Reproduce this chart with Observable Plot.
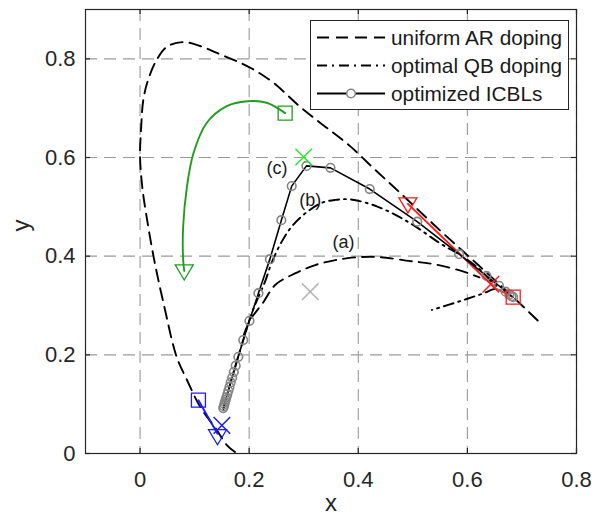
<!DOCTYPE html>
<html><head><meta charset="utf-8">
<script src="https://cdn.jsdelivr.net/npm/d3@7"></script>
<script src="https://cdn.jsdelivr.net/npm/@observablehq/plot@0.6"></script>
<style>
body{margin:0;background:#fff;}
#wrap{position:relative;width:600px;height:521px;font-family:"Liberation Sans",Arial,sans-serif;}
#legend{position:absolute;left:310px;top:20px;width:259px;height:90px;border:1px solid #262626;background:#fff;box-sizing:border-box;}
#legend svg{position:absolute;left:-1px;top:-1px;overflow:visible;}
</style>
</head><body>
<div id="wrap"><div id="chart"></div><div id="legend"></div></div>
<script>
// ---------- data ----------
const xTicks = [0, 0.2, 0.4, 0.6, 0.8];
const yTicks = [0, 0.2, 0.4, 0.6, 0.8];
const seriesNames = ["uniform AR doping", "optimal QB doping", "optimized ICBLs"];

const uniformX = [0.174,0.159,0.141,0.110,0.086,0.067,0.044,0.026,0.012,0.004,0.000,0.002,0.006,0.015,0.031,0.050,0.079,0.110,0.141,0.202,0.245,0.294,0.340,0.385,0.430,0.477,0.550,0.620,0.684,0.734];
const uniformY = [0.003,0.017,0.047,0.095,0.149,0.196,0.300,0.392,0.480,0.541,0.602,0.660,0.717,0.758,0.799,0.825,0.834,0.826,0.812,0.782,0.751,0.702,0.662,0.623,0.576,0.528,0.452,0.382,0.317,0.264];

const curveAX = [0.190,0.202,0.225,0.248,0.284,0.321,0.358,0.400,0.440,0.495,0.532,0.570,0.600,0.622];
const curveAY = [0.240,0.271,0.305,0.342,0.365,0.382,0.392,0.398,0.398,0.390,0.385,0.376,0.366,0.357];

const qbX = [0.153,0.170,0.190,0.205,0.218,0.229,0.242,0.260,0.278,0.303,0.333,0.358,0.385,0.434,0.495,0.550,0.590,0.624,0.645,0.655,0.645,0.630,0.590,0.535];
const qbY = [0.090,0.160,0.233,0.285,0.320,0.348,0.389,0.430,0.460,0.487,0.508,0.514,0.515,0.501,0.467,0.426,0.400,0.372,0.347,0.336,0.332,0.325,0.310,0.291];

const icblX = [0.1524,0.1535,0.1545,0.1556,0.1570,0.1583,0.1599,0.1618,0.1639,0.1662,0.1689,0.1718,0.1753,0.1801,0.1891,0.2005,0.217,0.238,0.259,0.278,0.305,0.349,0.421,0.508,0.585,0.635,0.658,0.670,0.677,0.681,0.684];
const icblY = [0.092,0.096,0.100,0.104,0.109,0.114,0.120,0.127,0.135,0.144,0.154,0.165,0.178,0.196,0.230,0.269,0.325,0.394,0.473,0.542,0.583,0.579,0.536,0.470,0.404,0.360,0.340,0.328,0.322,0.319,0.317];

const greenX = [0.266,0.232,0.196,0.159,0.122,0.098,0.086,0.079,0.079,0.081];
const greenY = [0.690,0.711,0.714,0.704,0.670,0.609,0.541,0.460,0.392,0.370];
const blueX = [0.107,0.142];
const blueY = [0.108,0.040];
const redX = [0.684,0.652,0.491];
const redY = [0.317,0.334,0.506];

const squareX = [0.107,0.266,0.684];
const squareY = [0.108,0.690,0.317];
const squareC = ["#1a1aff","#1e9e1e","#ff1a1a"];
const triX = [0.142,0.081,0.491];
const triY = [0.036,0.370,0.506];
const triC = ["#1a1aff","#1e9e1e","#ff1a1a"];
const crossX = [0.150,0.300,0.643,0.312];
const crossY = [0.057,0.601,0.343,0.328];
const crossC = ["#1a1aff","#22ee22","#ff1a1a","#b4b4b4"];

const noteText = ["(a)","(b)","(c)"];
const noteX = [0.373,0.312,0.251];
const noteY = [0.428,0.513,0.578];

// ---------- build ----------
const pts = (xs, ys) => xs.map((x, i) => ({x, y: ys[i]}));
const pc = (xs, ys, cs) => xs.map((x, i) => ({x, y: ys[i], c: cs[i]}));
const triDown = {draw(ctx, size){ const r = Math.sqrt(size/Math.PI); ctx.moveTo(-r,-0.67*r); ctx.lineTo(r,-0.67*r); ctx.lineTo(0,r); ctx.closePath(); }};
const ink = "#262626";
const frameW = 600-85-24, frameH = 521-9-68;

const chart = Plot.plot({
  width: 600, height: 521,
  marginLeft: 85, marginRight: 24, marginTop: 9, marginBottom: 68,
  x: {domain: [-0.1, 0.8], ticks: xTicks, tickFormat: d => String(d), tickSize: 0, tickPadding: 18, label: null},
  y: {domain: [0, 0.9], ticks: yTicks, tickFormat: d => String(d), tickSize: 0, tickPadding: 10, label: null},
  style: {fontFamily: "'Liberation Sans', Arial, sans-serif", fontSize: "22px", color: ink, background: "white", overflow: "visible"},
  marks: [
    Plot.ruleX(xTicks, {x: d => d, stroke: "#9a9a9a", strokeWidth: 1.1, strokeDasharray: "12,7"}),
    Plot.ruleY(yTicks, {y: d => d, stroke: "#9a9a9a", strokeWidth: 1.1, strokeDasharray: "12,7"}),
    Plot.line(pts(uniformX, uniformY), {x: "x", y: "y", curve: "catmull-rom", stroke: "black", strokeWidth: 1.9, strokeDasharray: "12,7"}),
    Plot.line(pts(curveAX, curveAY), {x: "x", y: "y", curve: "catmull-rom", stroke: "black", strokeWidth: 1.9, strokeDasharray: "12,7"}),
    Plot.line(pts(qbX, qbY), {x: "x", y: "y", curve: "catmull-rom", stroke: "black", strokeWidth: 1.9, strokeDasharray: "10,5,2,5"}),
    Plot.line(pts(greenX, greenY), {x: "x", y: "y", curve: "catmull-rom", stroke: "#1e9e1e", strokeWidth: 1.9}),
    Plot.line(pts(blueX, blueY), {x: "x", y: "y", stroke: "#1a1aff", strokeWidth: 1.9}),
    Plot.line(pts(redX, redY), {x: "x", y: "y", stroke: "#ff1a1a", strokeWidth: 1.9}),
    Plot.line(pts(icblX, icblY), {x: "x", y: "y", stroke: "black", strokeWidth: 1.6}),
    Plot.dot(pts(icblX, icblY), {x: "x", y: "y", r: 4.3, stroke: "#858585", strokeWidth: 1.6, fill: "none"}),
    Plot.dot(pc(squareX, squareY, squareC), {x: "x", y: "y", symbol: "square", r: 7.9, stroke: "c", fill: "none", strokeWidth: 1.3}),
    Plot.dot(pc(triX, triY, triC), {x: "x", y: "y", symbol: triDown, r: 9, stroke: "c", fill: "none", strokeWidth: 1.3}),
    Plot.dot(pc(crossX, crossY, crossC), {x: "x", y: "y", symbol: "times", r: 7.6, stroke: "c", fill: "none", strokeWidth: 1.5}),
    Plot.text(noteText.map((t, i) => ({t, x: noteX[i], y: noteY[i]})), {x: "x", y: "y", text: "t", fontSize: 18, fill: "#1a1a1a"}),
    Plot.frame({stroke: ink, strokeWidth: 1.2}),
    Plot.ruleX(xTicks, {x: d => d, insetTop: frameH - 5, stroke: ink, strokeWidth: 1.2}),
    Plot.ruleX(xTicks, {x: d => d, insetBottom: frameH - 5, stroke: ink, strokeWidth: 1.2}),
    Plot.ruleY(yTicks, {y: d => d, insetRight: frameW - 5, stroke: ink, strokeWidth: 1.2}),
    Plot.ruleY(yTicks, {y: d => d, insetLeft: frameW - 5, stroke: ink, strokeWidth: 1.2}),
    Plot.text(["x"], {text: d => d, frameAnchor: "bottom", dy: 57, fontSize: 24, fill: ink}),
    Plot.text(["y"], {text: d => d, frameAnchor: "left", dx: -64, rotate: -90, fontSize: 24, fill: ink})
  ]
});
document.getElementById("chart").appendChild(chart);

// ---------- legend ----------
const lg = d3.select("#legend").append("svg").attr("width", 259).attr("height", 90);
const rowY = [17.5, 45.5, 73.5];
const dashes = ["12,7", "10,5,2,5", null];
seriesNames.forEach((name, i) => {
  const ln = lg.append("line").attr("x1", 7).attr("x2", 75).attr("y1", rowY[i]).attr("y2", rowY[i])
    .attr("stroke", "black").attr("stroke-width", 1.9);
  if (dashes[i]) ln.attr("stroke-dasharray", dashes[i]);
  if (i === 2) lg.append("circle").attr("cx", 41).attr("cy", rowY[i]).attr("r", 4.3)
    .attr("fill", "white").attr("stroke", "#858585").attr("stroke-width", 1.6);
  lg.append("text").attr("x", 81).attr("y", rowY[i] + 7.5).attr("font-size", "20.8px")
    .attr("font-family", "'Liberation Sans', Arial, sans-serif").attr("fill", "#1a1a1a").text(name);
});
</script>
</body></html>
